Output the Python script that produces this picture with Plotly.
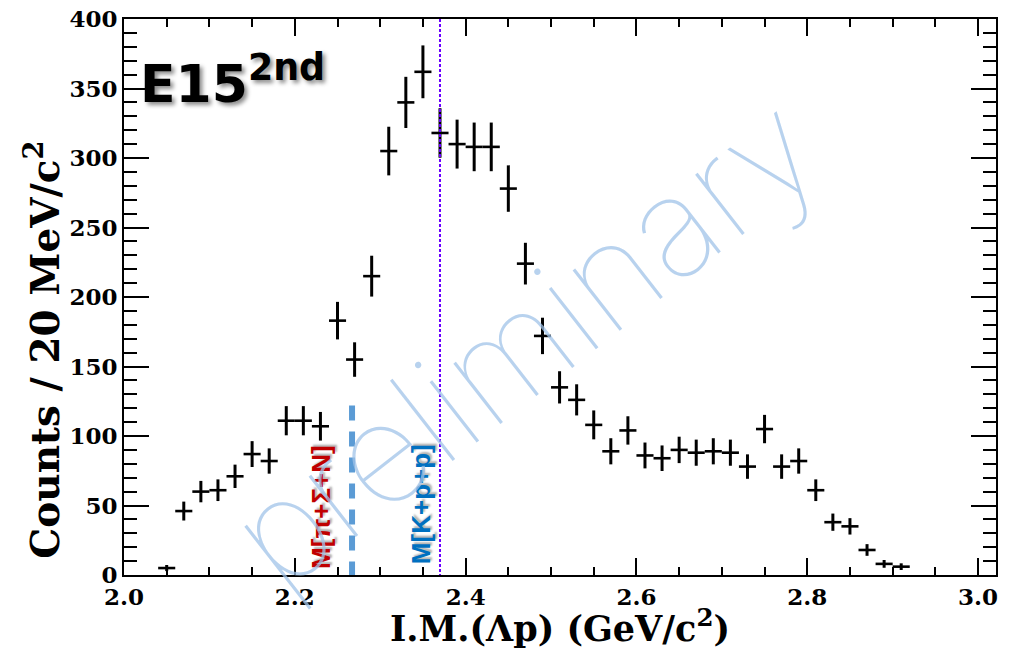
import plotly.graph_objects as go

# Invariant-mass spectrum of Lambda-p, 20 MeV/c^2 bins (bin centres in GeV/c^2)
bin_centers = [2.05, 2.07, 2.09, 2.11, 2.13, 2.15, 2.17, 2.19, 2.21, 2.23,
               2.25, 2.27, 2.29, 2.31, 2.33, 2.35, 2.37, 2.39, 2.41, 2.43,
               2.45, 2.47, 2.49, 2.51, 2.53, 2.55, 2.57, 2.59, 2.61, 2.63,
               2.65, 2.67, 2.69, 2.71, 2.73, 2.75, 2.77, 2.79, 2.81, 2.83,
               2.85, 2.87, 2.89, 2.91]
counts = [5, 46, 60, 61, 71, 87, 82, 111, 111, 107,
          183, 155, 215, 305, 340, 362, 318, 310, 308, 308,
          278, 224, 172, 135, 126, 108, 89, 104, 86, 84,
          90, 88, 89, 88, 78, 105, 78, 82, 61, 38,
          35, 18, 8, 6]
count_errors = [2.2, 6.8, 7.7, 7.8, 8.4, 9.3, 9.1, 10.5, 10.5, 10.3,
                13.5, 12.4, 14.7, 17.5, 18.4, 19.0, 17.8, 17.6, 17.5, 17.5,
                16.7, 15.0, 13.1, 11.6, 11.2, 10.4, 9.4, 10.2, 9.3, 9.2,
                9.5, 9.4, 9.4, 9.4, 8.8, 10.2, 8.8, 9.1, 7.8, 6.2,
                5.9, 4.2, 2.8, 2.4]
bin_half_width = 0.01

# Threshold masses (GeV/c^2)
m_pi_sigma_n = 2.267
m_k_p_p = 2.370

x_range = [2.0, 3.021]
y_range = [0, 400]

serif = "DejaVu Serif"

fig = go.Figure()

fig.add_trace(go.Scatter(
    x=bin_centers, y=counts,
    mode="markers",
    marker=dict(size=1, color="black", opacity=0),
    error_x=dict(type="constant", value=bin_half_width, width=0,
                 thickness=2.6, color="black"),
    error_y=dict(type="data", array=count_errors, width=0,
                 thickness=3, color="black"),
    showlegend=False, hoverinfo="x+y",
))

# helper trace so the mirrored frame axes (top / right) are drawn
fig.add_trace(go.Scatter(
    x=[x_range[0]], y=[y_range[0]], xaxis="x2", yaxis="y2",
    mode="markers", marker=dict(opacity=0), showlegend=False, hoverinfo="skip",
))

tick_font = dict(family=serif, size=23, color="black", weight="bold")

fig.update_layout(
    width=1015, height=649, autosize=False,
    margin=dict(l=124, r=19, t=19, b=74, autoexpand=False),
    paper_bgcolor="white", plot_bgcolor="white",
    xaxis=dict(
        range=x_range, showgrid=False, zeroline=False, automargin=False,
        showline=True, linecolor="black", linewidth=2, mirror=True,
        ticks="inside", ticklen=17, tickwidth=2, tickcolor="black",
        tick0=2.0, dtick=0.2, tickformat=".1f", tickfont=tick_font,
        minor=dict(ticks="inside", dtick=0.05, ticklen=8, tickwidth=2,
                   tickcolor="black", showgrid=False),
        title=dict(text="I.M.(Λp) (GeV/c<sup>2</sup>)",
                   font=dict(family=serif, size=35, color="black", weight="bold"),
                   standoff=6),
    ),
    yaxis=dict(
        range=y_range, showgrid=False, zeroline=False, automargin=False,
        showline=True, linecolor="black", linewidth=2, mirror=True,
        ticks="inside", ticklen=25, tickwidth=2, tickcolor="black",
        tick0=0, dtick=50, tickfont=tick_font,
        minor=dict(ticks="inside", dtick=10, ticklen=13, tickwidth=2,
                   tickcolor="black", showgrid=False),
    ),
    xaxis2=dict(
        range=x_range, overlaying="x", side="top", anchor="y2", automargin=False,
        showgrid=False, zeroline=False, showticklabels=False,
        ticks="inside", ticklen=17, tickwidth=2, tickcolor="black",
        tick0=2.0, dtick=0.2,
        minor=dict(ticks="inside", dtick=0.05, ticklen=8, tickwidth=2,
                   tickcolor="black", showgrid=False),
    ),
    yaxis2=dict(
        range=y_range, overlaying="y", side="right", anchor="x2", automargin=False,
        showgrid=False, zeroline=False, showticklabels=False,
        ticks="inside", ticklen=25, tickwidth=2, tickcolor="black",
        tick0=0, dtick=50,
        minor=dict(ticks="inside", dtick=10, ticklen=13, tickwidth=2,
                   tickcolor="black", showgrid=False),
    ),
)

# threshold lines
fig.add_shape(type="line", xref="x", yref="y",
              x0=m_pi_sigma_n, x1=m_pi_sigma_n, y0=122, y1=0,
              line=dict(color="#5b9bd5", width=6, dash="15px,11px"))
fig.add_shape(type="line", xref="x", yref="y",
              x0=m_k_p_p, x1=m_k_p_p, y0=400, y1=0,
              line=dict(color="#6a00ff", width=2, dash="3px,2px"))

label_font = "Liberation Sans Narrow, Liberation Sans"

annotations = [
    # y axis title
    dict(text="Counts / 20 MeV/c<sup>2</sup>", xref="paper", yref="paper",
         x=-0.093, y=0.405, xanchor="center", yanchor="middle", textangle=-90,
         showarrow=False,
         font=dict(family=serif, size=39, color="black", weight="bold")),
    # run label
    dict(text="E15<sup>2nd</sup>", xref="paper", yref="paper",
         x=0.016, y=0.955, xanchor="left", yanchor="top", showarrow=False,
         font=dict(family="DejaVu Sans", size=52, color="black", weight="bold",
                   shadow="3px 3px 4px rgba(0,0,0,0.45)")),
    # threshold labels
    dict(text="M[π+Σ+N]", xref="x", yref="y", x=2.2307, y=49,
         textangle=-90, showarrow=False, xanchor="center", yanchor="middle",
         font=dict(family=label_font, size=26, color="#c00000", weight="bold",
                   shadow="2px 2px 2px rgba(0,0,0,0.3)")),
    dict(text="M[K+p+p]", xref="x", yref="y", x=2.3478, y=51,
         textangle=-90, showarrow=False, xanchor="center", yanchor="middle",
         font=dict(family=label_font, size=26, color="#0070c0", weight="bold",
                   shadow="2px 2px 2px rgba(0,0,0,0.3)")),
    # watermark
    dict(text="preliminary", xref="x", yref="y", x=2.468, y=168,
         textangle=-38, showarrow=False, xanchor="center", yanchor="middle",
         font=dict(family="Inter", size=140, color="rgba(160,195,232,0.75)",
                   weight=100)),
]
fig.update_layout(annotations=annotations)

fig.write_html("out.html")
